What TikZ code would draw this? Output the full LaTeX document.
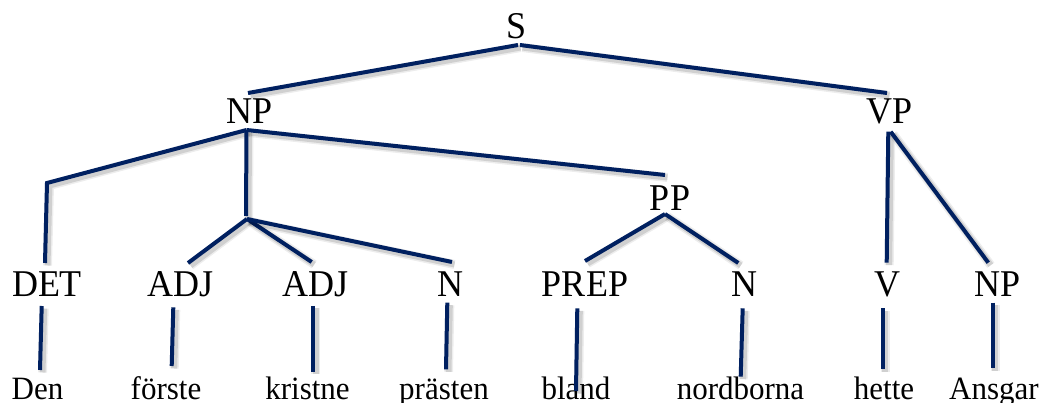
\documentclass[tikz,border=0pt]{standalone}
\usepackage{fontspec}
\setmainfont{Liberation Serif}
\definecolor{navy}{HTML}{002060}
\newcommand{\tallcat}[1]{\scalebox{1}[1.05]{#1}}
\begin{document}
\begin{tikzpicture}[x=1pt,y=-1pt,
  cat/.style={anchor=base,inner sep=0pt,font=\fontsize{36}{40}\selectfont},
  word/.style={anchor=base,inner sep=0pt,font=\fontsize{31}{36}\selectfont},
  branch/.style={draw=navy,line width=4pt,line join=miter,
    preaction={draw=black,opacity=0.07,line width=9pt,transform canvas={xshift=2.5pt,yshift=-2.5pt}},
    preaction={draw=black,opacity=0.12,line width=6pt,transform canvas={xshift=2.5pt,yshift=-2.5pt}}}]
\useasboundingbox (0,0) rectangle (1042,403);
% category labels
\node[cat] (S) at (517,38.5) {\tallcat{S}};
\node[cat] (NP) at (249.5,123.5) {\tallcat{NP}};
\node[cat] (VP) at (889.5,123.5) {\tallcat{VP}};
\node[cat] (PP) at (670,211) {\tallcat{PP}};
\node[cat] (DET) at (47,296.7) {\tallcat{DET}};
\node[cat] (ADJa) at (180.5,296.7) {\tallcat{ADJ}};
\node[cat] (ADJb) at (315.7,296.7) {\tallcat{ADJ}};
\node[cat] (Na) at (450,296.7) {\tallcat{N}};
\node[cat] (PREP) at (585,296.7) {\tallcat{PREP}};
\node[cat] (Nb) at (744,296.7) {\tallcat{N}};
\node[cat] (V) at (887.5,296.7) {\tallcat{V}};
\node[cat] (NPb) at (998,296.7) {\tallcat{NP}};
% words
\node[word] (w1) at (37.5,399.3) {\tallcat{Den}};
\node[word] (w2) at (166,399.3) {\tallcat{förste}};
\node[word] (w3) at (307.5,399.3) {\tallcat{kristne}};
\node[word] (w4) at (444,399.3) {\tallcat{prästen}};
\node[word] (w5) at (576,399.3) {\tallcat{bland}};
\node[word] (w6) at (740.5,399.3) {\tallcat{nordborna}};
\node[word] (w7) at (884,399.3) {\tallcat{hette}};
\node[word] (w8) at (994,399.3) {\tallcat{Ansgar}};
% branch end points
\coordinate (sB) at (518,45);
\coordinate (sR) at (520,45);
\coordinate (npT) at (248,93);
\coordinate (vpT) at (887,93);
\coordinate (npB) at (246.5,130);
\coordinate (detK) at (47,183);
\coordinate (detT) at (45,263);
\coordinate (npV) at (246,216);
\coordinate (jn) at (247,219);
\coordinate (adjaT) at (188,263);
\coordinate (adjbT) at (311.7,262);
\coordinate (naT) at (452,262);
\coordinate (ppT) at (665,175);
\coordinate (ppB) at (665,214);
\coordinate (prepT) at (585,261);
\coordinate (nbT) at (738.3,263);
\coordinate (vpBa) at (888.3,131.7);
\coordinate (vpBb) at (890.7,131.7);
\coordinate (vT) at (886.7,262.7);
\coordinate (npbT) at (988.3,262.7);
% lexical branch ends
\coordinate (detB) at (41.7,306);   \coordinate (w1T) at (40,370);
\coordinate (adjaB) at (173.3,307.3); \coordinate (w2T) at (171.7,366);
\coordinate (adjbB) at (313.3,306);  \coordinate (w3T) at (313.3,371.7);
\coordinate (naB) at (447.3,302.7);  \coordinate (w4T) at (446,369.3);
\coordinate (prepB) at (577.3,308.3); \coordinate (w5T) at (576,391);
\coordinate (nbB) at (742.7,308.3);  \coordinate (w6T) at (740.7,376.7);
\coordinate (vB) at (882.7,308.3);   \coordinate (w7T) at (882.7,369.3);
\coordinate (npbB) at (992.7,302.7); \coordinate (w8T) at (992.7,368.3);
% branches
\path[branch] (sB) -- (npT);
\path[branch] (sR) -- (vpT);
\path[branch] (npB) -- (detK) -- (detT);
\path[branch] (npB) -- (npV);
\path[branch] (npB) -- (ppT);
\path[branch] (jn) -- (adjaT);
\path[branch] (jn) -- (adjbT);
\path[branch] (jn) -- (naT);
\path[branch] (ppB) -- (prepT);
\path[branch] (ppB) -- (nbT);
\path[branch] (vpBa) -- (vT);
\path[branch] (vpBb) -- (npbT);
\path[branch] (detB) -- (w1T);
\path[branch] (adjaB) -- (w2T);
\path[branch] (adjbB) -- (w3T);
\path[branch] (naB) -- (w4T);
\path[branch] (prepB) -- (w5T);
\path[branch] (nbB) -- (w6T);
\path[branch] (vB) -- (w7T);
\path[branch] (npbB) -- (w8T);
\end{tikzpicture}
\end{document}
